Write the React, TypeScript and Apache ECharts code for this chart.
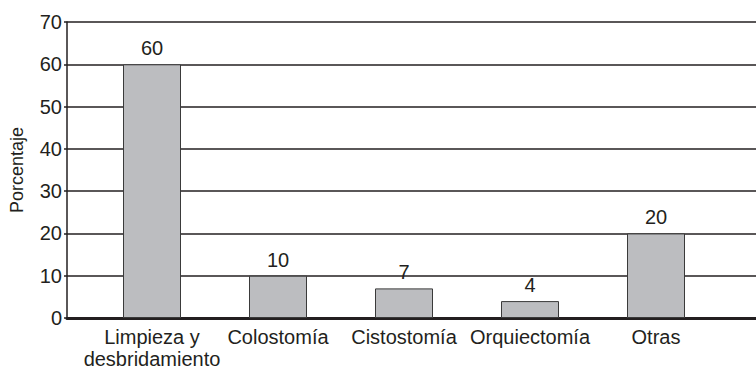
import React, { useEffect, useRef } from "react";
import * as echarts from "echarts";

const categories = ["Limpieza y\ndesbridamiento", "Colostomía", "Cistostomía", "Orquiectomía", "Otras"];
const values = [60, 10, 7, 4, 20];
const yMin = 0;
const yMax = 70;
const yStep = 10;
const yTitle = "Porcentaje";

const FONT = "'Liberation Sans', Arial, Helvetica, sans-serif";
const INK = "#231f20";

export default function App() {
  const ref = useRef<HTMLDivElement>(null);

  useEffect(() => {
    document.body.style.margin = "0";
    if (!ref.current) return;
    const chart = echarts.init(ref.current, null, { renderer: "svg" });
    chart.setOption({
      animation: false,
      backgroundColor: "#ffffff",
      grid: [
        // frame: y axis, gridlines and the heavy baseline across the full width
        { left: 62, right: 0, top: 22, bottom: 53 },
        // inner band for the bars
        { left: 89, right: 37, top: 22, bottom: 53 },
      ],
      xAxis: [
        {
          type: "value",
          gridIndex: 0,
          min: 0,
          max: 1,
          axisLine: { show: true, lineStyle: { color: INK, width: 3 } },
          axisTick: { show: false },
          axisLabel: { show: false },
          splitLine: { show: false },
        },
        {
          type: "category",
          gridIndex: 1,
          data: categories,
          axisLine: { show: false },
          axisTick: { show: false },
          axisLabel: {
            color: INK,
            fontFamily: FONT,
            fontSize: 20,
            lineHeight: 22,
            margin: 8,
            interval: 0,
          },
        },
      ],
      yAxis: [
        {
          type: "value",
          gridIndex: 0,
          min: yMin,
          max: yMax,
          interval: yStep,
          name: yTitle,
          nameLocation: "middle",
          nameGap: 41,
          nameTextStyle: { color: INK, fontFamily: FONT, fontSize: 18 },
          axisLine: { show: true, lineStyle: { color: INK, width: 1.5 } },
          axisTick: { show: true, length: 3, lineStyle: { color: INK, width: 1.5 } },
          axisLabel: { color: INK, fontFamily: FONT, fontSize: 20, margin: 5 },
          splitLine: { show: true, lineStyle: { color: INK, width: 1.6 } },
        },
        {
          type: "value",
          gridIndex: 1,
          min: yMin,
          max: yMax,
          show: false,
          splitLine: { show: false },
        },
      ],
      series: [
        {
          type: "bar",
          xAxisIndex: 1,
          yAxisIndex: 1,
          data: values,
          barWidth: 58,
          itemStyle: { color: "#bcbdc0", borderColor: "#3a3a3a", borderWidth: 1 },
          label: {
            show: true,
            position: "top",
            distance: 6,
            color: INK,
            fontFamily: FONT,
            fontSize: 20,
          },
        },
      ],
    });
    return () => chart.dispose();
  }, []);

  return <div ref={ref} style={{ width: 756, height: 371 }} />;
}
